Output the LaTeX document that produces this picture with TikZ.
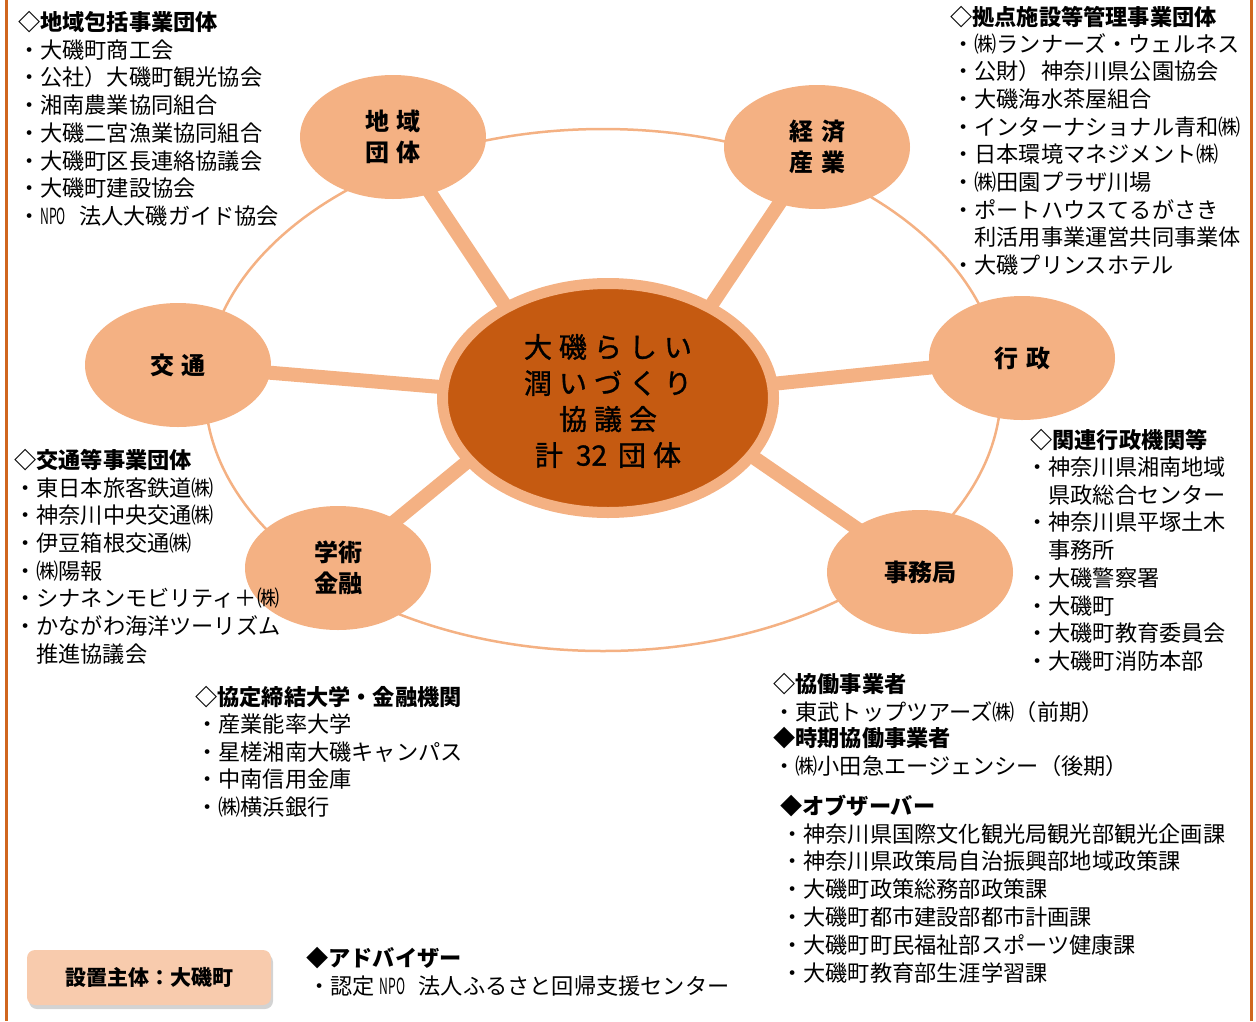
\documentclass[tikz,border=0pt]{standalone}
\usepackage{fontspec}
\setmainfont{Noto Sans CJK JP}
\newfontfamily\cjkheavy{Noto Sans CJK JP}[FakeBold=1.2]
\usetikzlibrary{shapes.geometric,backgrounds,shadows}
\definecolor{lor}{HTML}{F4B183}
\definecolor{dor}{HTML}{C55A11}
\definecolor{bor}{HTML}{F8CBAD}
\definecolor{frm}{HTML}{D0661F}
\newcommand{\ls}{\hspace{7pt}}
\newcommand{\satsp}{\hspace{8pt}}
\newcommand{\npo}{\scalebox{0.55}[1]{NPO}\hspace{0.6em}}
\begin{document}
\begin{tikzpicture}[x=1pt,y=-1pt,
  sat/.style={ellipse, fill=lor, minimum width=186pt, minimum height=124pt, inner sep=0pt,
    font=\fontsize{24}{31}\selectfont\bfseries, align=center},
  spoke/.style={draw=lor, line width=14pt},
  ltx/.style={anchor=west, inner sep=0pt, font=\fontsize{22.2}{27}\selectfont, text height=18pt, text depth=0pt},
  htx/.style={ltx, font=\fontsize{22.2}{27}\selectfont\bfseries},
]
\useasboundingbox (0,0) rectangle (1256,1021);
\draw[frm, line width=3pt] (6.5,0) -- (6.5,1021);
\draw[frm, line width=3pt] (1251.5,0) -- (1251.5,1021);

% central node and satellites
\node[ellipse, fill=dor, draw=lor, line width=11pt, minimum width=331pt, minimum height=229pt, inner sep=0pt] (c) at (608,398) {};
\node[font=\cjkheavy\fontsize{28}{36}\selectfont, align=center, inner sep=0pt] (ctext) at (608,401)
  {大\ls 磯\ls ら\ls し\ls い\\潤\ls い\ls づ\ls く\ls り\\協\ls 議\ls 会\\計\hspace{13pt}32\hspace{11pt}団\ls 体};
\node[sat] (s1) at (393,137) {地\satsp 域\\団\satsp 体};
\node[sat] (s2) at (817,147) {経\satsp 済\\産\satsp 業};
\node[sat] (s3) at (178,365) {交\satsp 通};
\node[sat] (s4) at (1022,358) {行\satsp 政};
\node[sat] (s5) at (338,568) {学術\\金融};
\node[sat] (s6) at (920,572) {事務局};

\coordinate (t1) at (566,397);
\coordinate (t2) at (650,397);
\coordinate (t3) at (608,401);
\coordinate (t4) at (608,401);
\coordinate (t5) at (546,397);
\coordinate (t6) at (666,397);
\coordinate (ringc) at (603,390);

\begin{scope}[on background layer]
  \draw[lor, line width=2.5pt] (ringc) ellipse [x radius=398, y radius=261];
  \draw[spoke] (s1.center) -- (t1);
  \draw[spoke] (s2.center) -- (t2);
  \draw[spoke] (s3.center) -- (t3);
  \draw[spoke] (s4.center) -- (t4);
  \draw[spoke] (s5.center) -- (t5);
  \draw[spoke] (s6.center) -- (t6);
\end{scope}

% block 1
\node[htx] (h1) at (18,21) {◇地域包括事業団体};
\foreach \t [count=\i from 0] in {・大磯町商工会,・公社）大磯町観光協会,・湘南農業協同組合,・大磯二宮漁業協同組合,・大磯町区長連絡協議会,・大磯町建設協会,・\npo 法人大磯ガイド協会}
  \node[ltx] (a\i) at (18,49+27.75*\i) {\t};

% block 2
\node[htx] (h2) at (950,16) {◇拠点施設等管理事業団体};
\foreach \t [count=\i from 0] in {・㈱ランナーズ・ウェルネス,・公財）神奈川県公園協会,・大磯海水茶屋組合,・インターナショナル青和㈱,・日本環境マネジメント㈱,・㈱田園プラザ川場,・ポートハウスてるがさき,\phantom{・}利活用事業運営共同事業体,・大磯プリンスホテル}
  \node[ltx] (b\i) at (952,43+27.7*\i) {\t};

% block 3
\node[htx] (h3) at (14,459) {◇交通等事業団体};
\foreach \t [count=\i from 0] in {・東日本旅客鉄道㈱,・神奈川中央交通㈱,・伊豆箱根交通㈱,・㈱陽報,・シナネンモビリティ＋㈱,・かながわ海洋ツーリズム,\phantom{・}推進協議会}
  \node[ltx] (d\i) at (14,487+27.7*\i) {\t};

% block 4
\node[htx] (h4) at (1030,439) {◇関連行政機関等};
\foreach \t [count=\i from 0] in {・神奈川県湘南地域,\phantom{・}県政総合センター,・神奈川県平塚土木,\phantom{・}事務所,・大磯警察署,・大磯町,・大磯町教育委員会,・大磯町消防本部}
  \node[ltx] (e\i) at (1026,466.5+27.7*\i) {\t};

% block 5
\node[htx] (h5) at (195,696) {◇協定締結大学・金融機関};
\foreach \t [count=\i from 0] in {・産業能率大学,・星槎湘南大磯キャンパス,・中南信用金庫,・㈱横浜銀行}
  \node[ltx] (f\i) at (196,723.5+27.6*\i) {\t};

% block 6
\node[htx] (h6) at (773,683) {◇協働事業者};
\node[ltx] (g0) at (773,711) {・東武トップツアーズ㈱（前期）};
\node[htx] (h6b) at (773,737) {◆時期協働事業者};
\node[ltx] (g1) at (773,765) {・㈱小田急エージェンシー（後期）};

% block 7
\node[htx] (h7) at (780,805) {◆オブザーバー};
\foreach \t [count=\i from 0] in {・神奈川県国際文化観光局観光部観光企画課,・神奈川県政策局自治振興部地域政策課,・大磯町政策総務部政策課,・大磯町都市建設部都市計画課,・大磯町町民福祉部スポーツ健康課,・大磯町教育部生涯学習課}
  \node[ltx] (k\i) at (781,833+27.8*\i) {\t};

% block 8
\node[htx] (h8) at (306,957) {◆アドバイザー};
\node[ltx] (m0) at (308,985) {・認定 \npo 法人ふるさと回帰支援センター};

% box
\node[fill=bor, rounded corners=8pt, minimum width=244pt, minimum height=55pt, inner sep=0pt,
  font=\fontsize{21}{25}\selectfont\bfseries,
  drop shadow={opacity=0.35, shadow xshift=2pt, shadow yshift=-4pt}] (box) at (149,977.5) {設置主体：大磯町};
\end{tikzpicture}
\end{document}
